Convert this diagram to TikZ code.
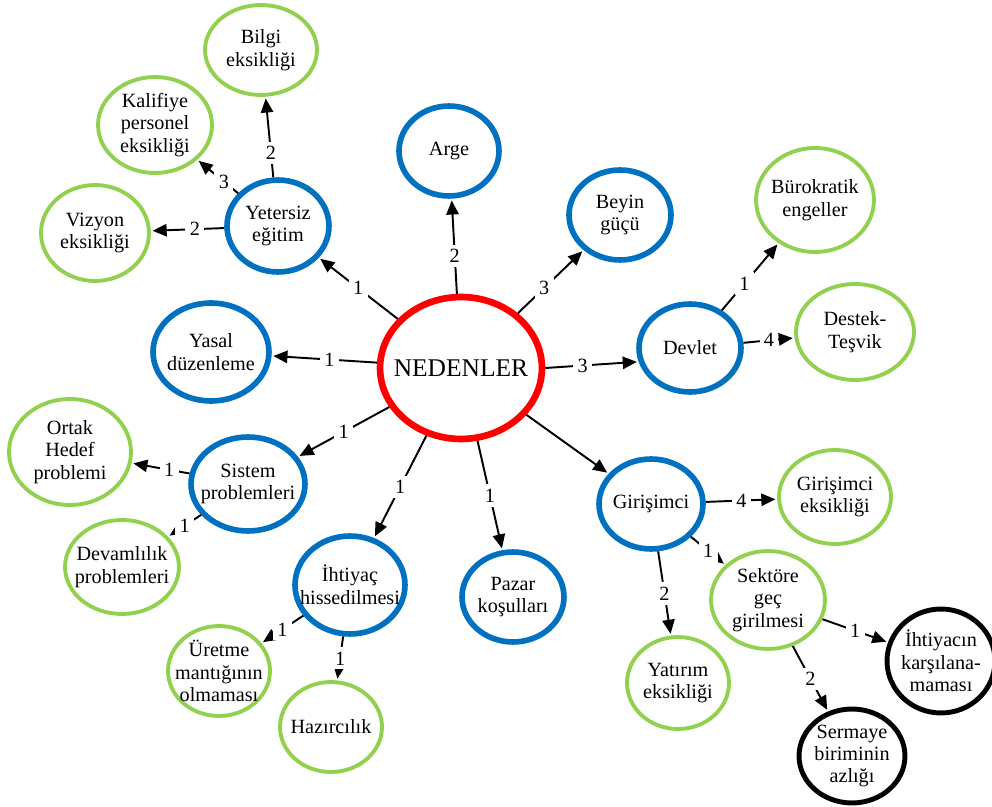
\documentclass[tikz,border=0pt]{standalone}
\usepackage{fontspec}
\setmainfont{Liberation Serif}
\usetikzlibrary{shapes.geometric, arrows.meta}
\definecolor{cB}{RGB}{0,112,192}
\definecolor{cG}{RGB}{146,208,80}
\definecolor{cR}{RGB}{255,0,0}

\begin{document}
\begin{tikzpicture}[x=0.02cm, y=-0.02cm,
    every node/.style={font=\fontsize{11.5}{12.8}\selectfont, align=center},
    sz/.style 2 args={minimum width=#1*0.04cm, minimum height=#2*0.04cm},
    bub/.style={ellipse, inner xsep=-8pt, inner ysep=-3pt},
    root/.style={bub, draw=cR, line width=3.8pt, sz={81}{71}, font=\fontsize{14.5}{16}\selectfont},
    cause/.style={bub, draw=cB, line width=3.2pt},
    effect/.style={bub, draw=cG, line width=2.2pt},
    result/.style={bub, draw=black, line width=2.8pt},
    lbl/.style={fill=white, inner sep=2.5pt},
    arr/.style={-{Triangle[length=8pt,width=7pt]}, line width=1.1pt, shorten >=1pt}]
    \useasboundingbox (0,0) rectangle (992,807);

    % center
    \node[root] (ned) at (461,368) {NEDENLER};

    % causes
    \node[cause, sz={50}{45}] (arge) at (449,151) {Arge};
    \node[cause, sz={51}{45}] (beyin) at (620,215) {Beyin\\güçü};
    \node[cause, sz={51}{44}] (devlet) at (690,348) {Devlet};
    \node[cause, sz={52}{45}] (gir) at (651,504) {Girişimci};
    \node[cause, sz={51}{46}] (yetersiz) at (278,226) {Yetersiz\\eğitim};
    \node[cause, sz={58}{49}] (yasal) at (211,352) {Yasal\\düzenleme};
    \node[cause, sz={57}{47}] (sistem) at (248,484) {Sistem\\problemleri};
    \node[cause, sz={55}{49}] (ihtiyac) at (350,585) {İhtiyaç\\hissedilmesi};
    \node[cause, sz={51}{45}] (pazar) at (513,597) {Pazar\\koşulları};

    % effects
    \node[effect, sz={56}{45}] (bilgi) at (261,50) {Bilgi\\eksikliği};
    \node[effect, sz={57}{48}] (kalif) at (155,125) {Kalifiye\\personel\\eksikliği};
    \node[effect, sz={54}{48}] (vizyon) at (95,233) {Vizyon\\eksikliği};
    \node[effect, sz={61}{53}] (ortak) at (70,452) {Ortak\\Hedef\\problemi};
    \node[effect, sz={57}{47}] (devam) at (122,567) {Devamlılık\\problemleri};
    \node[effect, sz={51}{45}] (uretme) at (219,671) {Üretme\\mantığının\\olmaması};
    \node[effect, sz={51}{45}] (hazir) at (331,727) {Hazırcılık};
    \node[effect, sz={59}{52}] (buro) at (815,200) {Bürokratik\\engeller};
    \node[effect, sz={59}{48}] (destek) at (855,332) {Destek-\\Teşvik};
    \node[effect, sz={56}{47}] (girek) at (835,497) {Girişimci\\eksikliği};
    \node[effect, sz={57}{49}] (sektor) at (768,600) {Sektöre\\geç\\girilmesi};
    \node[effect, sz={51}{46}] (yatirim) at (678,683) {Yatırım\\eksikliği};

    % results
    \node[result, sz={54}{52}] (ihtkar) at (941,661) {İhtiyacın\\karşılana-\\maması};
    \node[result, sz={53}{47}] (sermaye) at (852,756) {Sermaye\\biriminin\\azlığı};

    % connectors
    \draw[arr] (ned) -- node[lbl] {1} (yetersiz);
    \draw[arr] (ned) -- node[lbl, pos=0.4] {2} (arge);
    \draw[arr] (ned) -- node[lbl, pos=0.4] {3} (beyin);
    \draw[arr] (ned) -- node[lbl, pos=0.45] {1} (yasal);
    \draw[arr] (ned.east) -- node[lbl, pos=0.4] {3} (devlet.195);
    \draw[arr] (ned) -- node[lbl] {1} (sistem);
    \draw[arr] (ned) -- node[lbl] {1} (ihtiyac);
    \draw[arr] (ned) -- node[lbl] {1} (pazar);
    \draw[arr] (ned) -- (gir);
    \draw[arr] (yetersiz) -- node[lbl, pos=0.3] {2} (bilgi);
    \draw[arr] (yetersiz) -- node[lbl, pos=0.35] {3} (kalif);
    \draw[arr] (yetersiz) -- node[lbl, pos=0.4] {2} (vizyon);
    \draw[arr] (sistem) -- node[lbl, pos=0.35] {1} (ortak);
    \draw[arr] (sistem) -- node[lbl] {1} (devam);
    \draw[arr] (ihtiyac) -- node[lbl] {1} (uretme);
    \draw[arr] (ihtiyac) -- node[lbl] {1} (hazir);
    \draw[arr] (devlet) -- node[lbl, pos=0.4] {1} (buro);
    \draw[arr] (devlet) -- node[lbl] {4} (destek);
    \draw[arr] (gir) -- node[lbl] {4} (girek);
    \draw[arr] (gir) -- node[lbl] {1} (sektor);
    \draw[arr] (gir) -- node[lbl] {2} (yatirim);
    \draw[arr] (sektor) -- node[lbl] {1} (ihtkar);
    \draw[arr] (sektor) -- node[lbl] {2} (sermaye);
\end{tikzpicture}
\end{document}
